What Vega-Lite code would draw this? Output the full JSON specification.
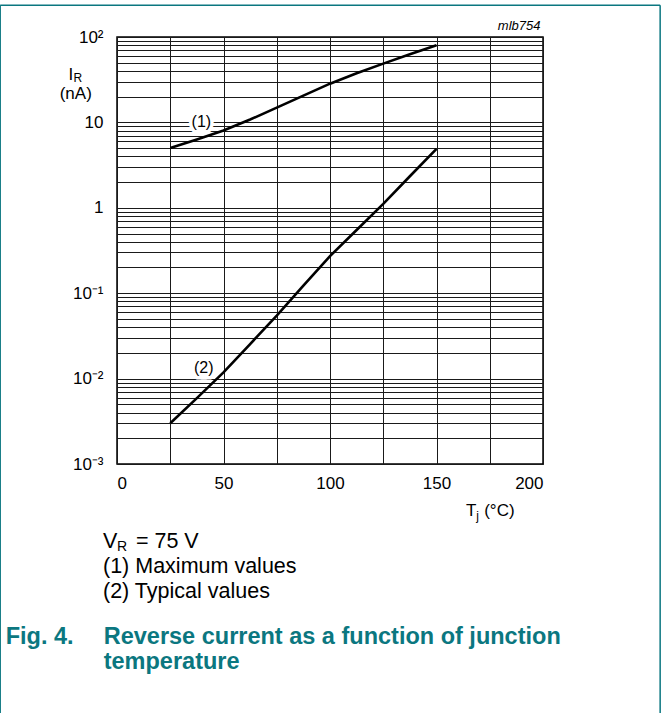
{
  "$schema": "https://vega.github.io/schema/vega-lite/v6.json",
  "width": 426,
  "height": 427,
  "autosize": "none",
  "padding": {"left": 117, "top": 37, "right": 119, "bottom": 249},
  "background": "white",
  "config": {
    "font": "Liberation Sans",
    "view": {"stroke": "#000", "strokeWidth": 1.5},
    "axis": {"grid": true, "gridColor": "#1a1a1a", "gridWidth": 1, "gridOpacity": 1, "ticks": false, "domain": false, "labelColor": "#000", "labelFont": "Liberation Sans", "labelFontSize": 17, "title": null}
  },
  "datasets": {
    "frame": [
      {"edge": "top", "x": -54.84, "x2": 255.0, "y": 235.3, "y2": 235.3},
      {"edge": "left", "x": -54.84, "x2": -54.84, "y": 235.3, "y2": 0.0000001},
      {"edge": "right", "x": 255.0, "x2": 255.0, "y": 235.3, "y2": 0.0000001}
    ],
    "curves": [
      {"series": "max", "x": 25, "y": 5.0},
      {"series": "max", "x": 37.5, "y": 6.3},
      {"series": "max", "x": 50, "y": 8.05},
      {"series": "max", "x": 62.5, "y": 10.8},
      {"series": "max", "x": 75, "y": 14.9},
      {"series": "max", "x": 87.5, "y": 20.6},
      {"series": "max", "x": 100, "y": 28.4},
      {"series": "max", "x": 112.5, "y": 37.6},
      {"series": "max", "x": 125, "y": 48.8},
      {"series": "max", "x": 137.5, "y": 62.7},
      {"series": "max", "x": 150, "y": 80},
      {"series": "typ", "x": 25, "y": 0.003},
      {"series": "typ", "x": 37.5, "y": 0.0059},
      {"series": "typ", "x": 50, "y": 0.0118},
      {"series": "typ", "x": 62.5, "y": 0.0254},
      {"series": "typ", "x": 75, "y": 0.0546},
      {"series": "typ", "x": 87.5, "y": 0.1225},
      {"series": "typ", "x": 100, "y": 0.272},
      {"series": "typ", "x": 112.5, "y": 0.55},
      {"series": "typ", "x": 125, "y": 1.11},
      {"series": "typ", "x": 137.5, "y": 2.34},
      {"series": "typ", "x": 150, "y": 4.9}
    ],
    "curveLabels": [
      {"text": "(1)", "x": 39.6, "y": 10},
      {"text": "(2)", "x": 40.7, "y": 0.0133}
    ],
    "axisTitles": [
      {"text": "I", "x": -22.8, "y": 31.2},
      {"text": "(nA)", "x": -26.9, "y": 18.6},
      {"text": "T", "x": 163.9, "y": 0.000247},
      {"text": "(°C)", "x": 172.4, "y": 0.000247}
    ],
    "axisSubs": [
      {"text": "R", "x": -20.4, "y": 29.9},
      {"text": "j", "x": 168.7, "y": 0.000222}
    ],
    "notes": [
      {"text": "V", "x": -6.57, "y": 0.0001038},
      {"text": "= 75 V", "x": 8.9, "y": 0.0001038},
      {"text": "(1) Maximum values", "x": -6.57, "y": 0.000053},
      {"text": "(2) Typical values", "x": -6.57, "y": 0.000027}
    ],
    "noteSubs": [
      {"text": "R", "x": 0.0, "y": 0.0000958}
    ],
    "caption": [
      {"text": "Fig. 4.", "x": -52.25, "y": 0.0000078},
      {"text": "Reverse current as a function of junction", "x": -6.24, "y": 0.0000078},
      {"text": "temperature", "x": -6.24, "y": 0.00000397}
    ],
    "code": [
      {"text": "mlb754", "x": 198.8, "y": 122.1}
    ]
  },
  "encoding": {
    "x": {
      "field": "x", "type": "quantitative",
      "scale": {"domain": [0, 200], "nice": false, "zero": false},
      "axis": {
        "values": [0, 25, 50, 75, 100, 125, 150, 175, 200],
        "labelExpr": "datum.value % 50 == 0 ? datum.label : ''",
        "labelPadding": 11
      }
    },
    "y": {
      "field": "y", "type": "quantitative",
      "scale": {"type": "log", "domain": [0.001, 100], "nice": false},
      "axis": {
        "values": [0.001, 0.002, 0.003, 0.004, 0.005, 0.006, 0.007, 0.008, 0.009,
                   0.01, 0.02, 0.03, 0.04, 0.05, 0.06, 0.07, 0.08, 0.09,
                   0.1, 0.2, 0.3, 0.4, 0.5, 0.6, 0.7, 0.8, 0.9,
                   1, 2, 3, 4, 5, 6, 7, 8, 9,
                   10, 20, 30, 40, 50, 60, 70, 80, 90, 100],
        "labelExpr": "datum.value == 100 ? '10²' : datum.value == 10 ? '10' : datum.value == 1 ? '1' : datum.value == 0.1 ? '10⁻¹' : datum.value == 0.01 ? '10⁻²' : datum.value == 0.001 ? '10⁻³' : ''",
        "labelPadding": 14,
        "labelBaseline": "middle"
      }
    }
  },
  "layer": [
    {
      "data": {"name": "frame"},
      "mark": {"type": "rule", "color": "#0b7780", "strokeWidth": 1.5},
      "encoding": {
        "x2": {"field": "x2"},
        "y2": {"field": "y2"},
        "detail": {"field": "edge"}
      }
    },
    {
      "data": {"name": "curves"},
      "mark": {"type": "line", "color": "#000", "strokeWidth": 2.6},
      "encoding": {"detail": {"field": "series"}}
    },
    {
      "data": {"name": "curveLabels"},
      "mark": {"type": "text", "fontSize": 16, "stroke": "white", "strokeWidth": 7, "color": "white", "align": "center", "baseline": "middle"},
      "encoding": {"text": {"field": "text"}}
    },
    {
      "data": {"name": "curveLabels"},
      "mark": {"type": "text", "fontSize": 16, "color": "#000", "align": "center", "baseline": "middle"},
      "encoding": {"text": {"field": "text"}}
    },
    {
      "data": {"name": "axisTitles"},
      "mark": {"type": "text", "fontSize": 17, "color": "#000", "align": "left", "baseline": "alphabetic"},
      "encoding": {"text": {"field": "text"}}
    },
    {
      "data": {"name": "axisSubs"},
      "mark": {"type": "text", "fontSize": 12, "color": "#000", "align": "left", "baseline": "alphabetic"},
      "encoding": {"text": {"field": "text"}}
    },
    {
      "data": {"name": "notes"},
      "mark": {"type": "text", "fontSize": 21.5, "color": "#000", "align": "left", "baseline": "alphabetic"},
      "encoding": {"text": {"field": "text"}}
    },
    {
      "data": {"name": "noteSubs"},
      "mark": {"type": "text", "fontSize": 14, "color": "#000", "align": "left", "baseline": "alphabetic"},
      "encoding": {"text": {"field": "text"}}
    },
    {
      "data": {"name": "caption"},
      "mark": {"type": "text", "fontSize": 23.5, "fontWeight": "bold", "color": "#0b7780", "align": "left", "baseline": "alphabetic"},
      "encoding": {"text": {"field": "text"}}
    },
    {
      "data": {"name": "code"},
      "mark": {"type": "text", "fontSize": 13, "fontStyle": "italic", "color": "#000", "align": "right", "baseline": "alphabetic"},
      "encoding": {"text": {"field": "text"}}
    }
  ]
}
